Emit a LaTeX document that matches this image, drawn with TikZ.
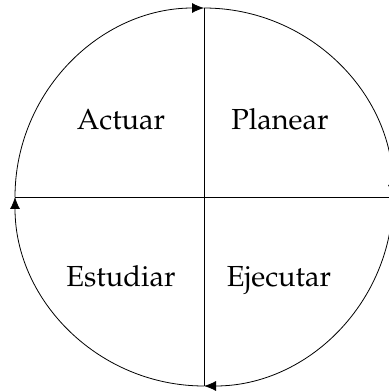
\documentclass[tikz,border=0pt]{standalone}
\usepackage[T1]{fontenc}
\usepackage{mathpazo}
\usetikzlibrary{arrows.meta}
\begin{document}
\begin{tikzpicture}[x=1pt,y=1pt,
  arc/.style={line width=0.8pt,-{Latex[length=12pt,width=10pt]}},
  axis/.style={line width=0.8pt},
  lbl/.style={font=\fontsize{29}{34}\selectfont, inner sep=0pt, anchor=base}]
\useasboundingbox (0,0) rectangle (389,392);
\coordinate (C) at (204,195);
\coordinate (T) at (204,384);
\coordinate (B) at (204,6);
\coordinate (L) at (15,195);
\coordinate (R) at (393,195);
\draw[axis] (T) -- (B);
\draw[axis] (L) -- (R);
\draw[arc] (L) arc[start angle=180,end angle=90,radius=189];
\draw[arc] (T) arc[start angle=90,end angle=0,radius=189];
\draw[arc] (R) arc[start angle=0,end angle=-90,radius=189];
\draw[arc] (B) arc[start angle=-90,end angle=-180,radius=189];
\node[lbl] (act) at (121,262) {Actuar};
\node[lbl] (pla) at (280,262) {Planear};
\node[lbl] (est) at (121,105) {Estudiar};
\node[lbl] (eje) at (279,105) {Ejecutar};
\end{tikzpicture}
\end{document}
